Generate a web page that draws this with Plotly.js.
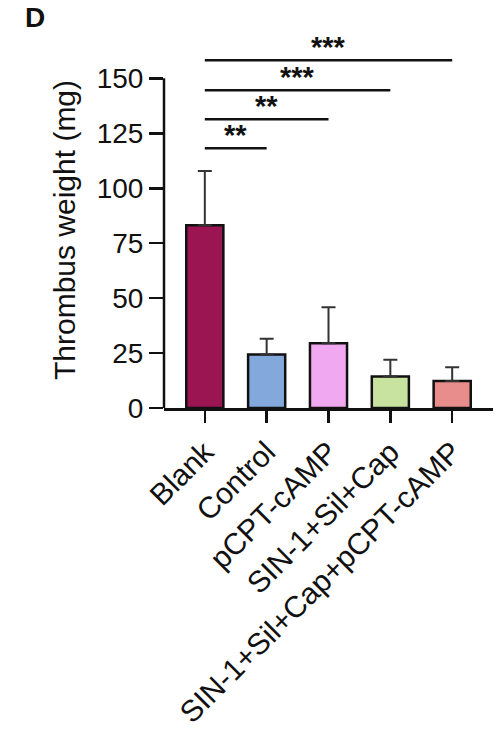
<!DOCTYPE html>
<html>
<head>
<meta charset="utf-8">
<script src="https://cdn.plot.ly/plotly-3.0.1.min.js"></script>
<style>html,body{margin:0;padding:0;background:#fff;}#chart{width:495px;height:736px;}</style>
</head>
<body>
<div id="chart"></div>
<script>
const categories = ["Blank", "Control", "pCPT-cAMP", "SIN-1+Sil+Cap", "SIN-1+Sil+Cap+pCPT-cAMP"];
const means = [83.2, 24.3, 29.5, 14.3, 12.3];
const errTop = [107.8, 31.5, 45.8, 21.9, 18.6];
const barColors = ["#9b1552", "#82a8dc", "#f0a8f0", "#c8e2a0", "#e98c8c"];
const yTicks = [0, 25, 50, 75, 100, 125, 150];
const sigFrom = [0, 0, 0, 0];
const sigTo = [1, 2, 3, 4];
const sigY = [118.2, 131.4, 144.6, 158.2];
const sigLabels = ["**", "**", "***", "***"];

const FONT = "Liberation Sans, Arial, sans-serif";

const trace = {
  type: "bar",
  x: categories,
  y: means,
  width: 0.6,
  marker: {color: barColors, line: {color: "#111", width: 2.5}},
  error_y: {
    type: "data",
    symmetric: false,
    array: errTop.map((t, i) => t - means[i]),
    arrayminus: means.map(() => 0),
    color: "#333",
    thickness: 2,
    width: 7
  },
  hoverinfo: "none"
};

const shapes = [{
  type: "line", xref: "paper", yref: "y",
  x0: 0, x1: 0, y0: 0, y1: yTicks[yTicks.length - 1],
  line: {color: "#111", width: 2.5}
}];
const annotations = [{
  text: "<b>D</b>", xref: "paper", yref: "paper",
  x: -0.43, y: 1.145, xanchor: "left", yanchor: "top", showarrow: false,
  font: {family: FONT, size: 28, color: "#111"}
}];
sigFrom.forEach((f, i) => {
  shapes.push({
    type: "line", xref: "x", yref: "y",
    x0: f, x1: sigTo[i], y0: sigY[i], y1: sigY[i],
    line: {color: "#111", width: 2.5}
  });
  annotations.push({
    text: "<b>" + sigLabels[i] + "</b>", xref: "x", yref: "y",
    x: (f + sigTo[i]) / 2, y: sigY[i], xanchor: "center", yanchor: "bottom",
    showarrow: false, yshift: -5,
    font: {family: FONT, size: 29, color: "#111"}
  });
});

const layout = {
  width: 495, height: 736,
  margin: {l: 164, r: 2, t: 52, b: 328},
  paper_bgcolor: "#fff", plot_bgcolor: "#fff",
  showlegend: false,
  font: {family: FONT, color: "#111"},
  xaxis: {
    type: "category",
    range: [-0.66, 4.66],
    showline: true, linecolor: "#111", linewidth: 2.5,
    ticks: "outside", ticklen: 12, tickwidth: 2.5, tickcolor: "#111",
    tickangle: -45,
    tickfont: {family: FONT, size: 30, color: "#111"},
    showgrid: false, zeroline: false, automargin: false, fixedrange: true
  },
  yaxis: {
    range: [0, 162],
    tickvals: yTicks,
    ticktext: yTicks.map(String),
    showline: false,
    ticks: "outside", ticklen: 14, tickwidth: 2.5, tickcolor: "#111",
    tickfont: {family: FONT, size: 28, color: "#111"},
    showgrid: false, zeroline: false, automargin: false, fixedrange: true,
    title: {text: "Thrombus weight (mg)", font: {family: FONT, size: 30, color: "#111"}, standoff: 12}
  },
  shapes: shapes,
  annotations: annotations
};

Plotly.newPlot("chart", [trace], layout, {displayModeBar: false, staticPlot: true});
</script>
</body>
</html>
